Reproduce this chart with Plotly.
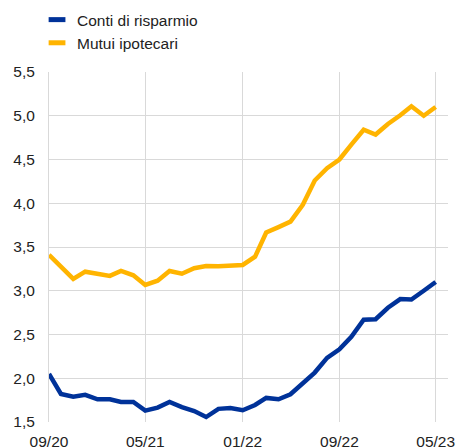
import plotly.graph_objects as go

months = ["2020-09-01","2020-10-01","2020-11-01","2020-12-01","2021-01-01","2021-02-01","2021-03-01","2021-04-01",
          "2021-05-01","2021-06-01","2021-07-01","2021-08-01","2021-09-01","2021-10-01","2021-11-01","2021-12-01",
          "2022-01-01","2022-02-01","2022-03-01","2022-04-01","2022-05-01","2022-06-01","2022-07-01","2022-08-01",
          "2022-09-01","2022-10-01","2022-11-01","2022-12-01","2023-01-01","2023-02-01","2023-03-01","2023-04-01",
          "2023-05-01"]

conti_risparmio = [2.05, 1.82, 1.79, 1.81, 1.76, 1.76, 1.73, 1.73, 1.63, 1.665, 1.73, 1.67, 1.625, 1.557, 1.65, 1.66,
                   1.634, 1.695, 1.775, 1.76, 1.817, 1.947, 2.065, 2.233, 2.33, 2.474, 2.67, 2.675, 2.806, 2.905,
                   2.90, 3.0, 3.10]
mutui_ipotecari = [3.41, 3.275, 3.135, 3.218, 3.19, 3.17, 3.226, 3.177, 3.066, 3.115, 3.226, 3.195, 3.257, 3.283,
                   3.28, 3.283, 3.295, 3.39, 3.665, 3.727, 3.79, 3.982, 4.26, 4.40, 4.50, 4.67, 4.84, 4.785, 4.906,
                   5.005, 5.108, 5.0, 5.10]

series_names = ["Conti di risparmio", "Mutui ipotecari"]
colors = ["#003299", "#ffb400"]

x_tickvals = ["2020-09-01", "2021-05-01", "2022-01-01", "2022-09-01", "2023-05-01"]
x_ticktext = ["09/20", "05/21", "01/22", "09/22", "05/23"]
y_tickvals = [1.5, 2.0, 2.5, 3.0, 3.5, 4.0, 4.5, 5.0, 5.5]

fig = go.Figure()
for name, vals, col in zip(series_names, [conti_risparmio, mutui_ipotecari], colors):
    fig.add_trace(go.Scatter(x=months, y=vals, name=name, mode="lines", showlegend=False,
                             line=dict(color=col, width=4.5)))
# legend-only entries with a short thick bar symbol
for name, col in zip(series_names, colors):
    fig.add_trace(go.Scatter(x=[None], y=[None], name=name, mode="markers", showlegend=True,
                             marker=dict(symbol="line-ew", size=12, color=col,
                                         line=dict(color=col, width=6))))

grid = "#d9d9d9"
fig.update_layout(
    width=457, height=448,
    margin=dict(l=49, r=9, t=72, b=26, autoexpand=False),
    paper_bgcolor="white", plot_bgcolor="white",
    font=dict(family="Liberation Sans, Arial, sans-serif", size=15.5, color="#222222"),
    separators=",.",
    showlegend=True,
    legend=dict(x=-0.03, y=1.197, xanchor="left", yanchor="top",
                bgcolor="rgba(0,0,0,0)", font=dict(size=15.5), tracegroupgap=0),
    xaxis=dict(range=["2020-09-01", "2023-06-01"], tickvals=x_tickvals, ticktext=x_ticktext,
               showgrid=True, gridcolor=grid, gridwidth=1, zeroline=False,
               showline=False, ticks="", ticklabelstandoff=8),
    yaxis=dict(range=[1.5, 5.5], tickvals=y_tickvals, tickformat=".1f",
               showgrid=True, gridcolor=grid, gridwidth=1, zeroline=False,
               showline=True, linecolor=grid, linewidth=1, ticks="", ticklabelstandoff=10),
)
fig.write_html("out.html", config={"displayModeBar": False},
               post_script="document.body.style.margin='0';document.body.style.overflow='hidden';")
